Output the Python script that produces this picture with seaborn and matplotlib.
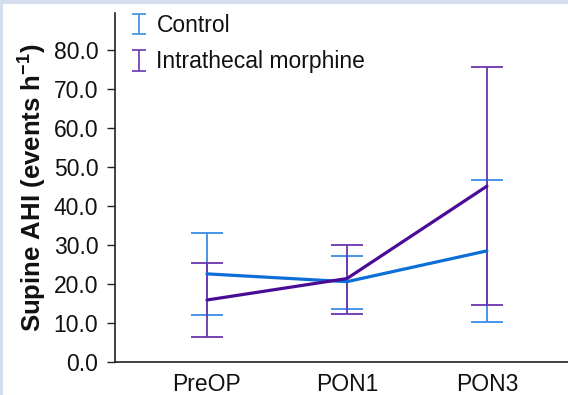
import numpy as np
import pandas as pd
import matplotlib
matplotlib.use("Agg")
import matplotlib.pyplot as plt
import seaborn as sns
from matplotlib.patches import Rectangle
from matplotlib.legend_handler import HandlerErrorbar

categories = ["PreOP", "PON1", "PON3"]
control_mean = [22.6, 20.6, 28.5]
control_upper = [33.1, 27.2, 46.8]
control_lower = [12.0, 13.7, 10.3]
morphine_mean = [15.9, 21.4, 45.1]
morphine_upper = [25.5, 29.9, 75.6]
morphine_lower = [6.3, 12.3, 14.6]
yticks = [0, 10, 20, 30, 40, 50, 60, 70, 80]

sns.set_theme(style="white")
plt.rcParams['font.family'] = ['Liberation Sans', 'DejaVu Sans']
plt.rcParams['mathtext.fontset'] = 'custom'
plt.rcParams['mathtext.rm'] = 'Liberation Sans'
plt.rcParams['mathtext.bf'] = 'Liberation Sans:bold'

FS = 16.5
TXT = "#111111"

fig = plt.figure(figsize=(5.68, 3.95), dpi=100)
fig.patch.set_facecolor("#d5deef")
fig.patches.append(Rectangle((3/568, 0), 1, 1 - 4/395, transform=fig.transFigure,
                             facecolor="white", edgecolor="none", zorder=-10))
ax = fig.add_axes([115/568, (395-362)/395, (568-115)/568, (362-13)/395])
ax.set_facecolor("none")

c_line, c_err = "#0b6fd6", "#3a8ce6"
m_line, m_err = "#4a0c96", "#6a36ae"

df = pd.DataFrame({
    "time": categories * 2,
    "AHI": control_mean + morphine_mean,
    "group": ["Control"] * 3 + ["Intrathecal morphine"] * 3,
})
x = np.arange(len(categories))
df["x"] = np.tile(x, 2)

sns.lineplot(data=df, x="x", y="AHI", hue="group", palette=[c_line, m_line],
             linewidth=2.3, ax=ax, legend=False, zorder=3)

cm = np.array(control_mean)
mm = np.array(morphine_mean)
ax.errorbar(x, cm, yerr=[cm - np.array(control_lower), np.array(control_upper) - cm],
            fmt="none", ecolor=c_err, elinewidth=1.3, capsize=11.5, capthick=1.3, zorder=2)
ax.errorbar(x, mm, yerr=[mm - np.array(morphine_lower), np.array(morphine_upper) - mm],
            fmt="none", ecolor=m_err, elinewidth=1.3, capsize=11.5, capthick=1.3, zorder=2)

# legend proxies (errorbar glyphs with small caps)
hc = ax.errorbar([np.nan], [np.nan], yerr=[[np.nan]], fmt="none", ecolor=c_err,
                 elinewidth=1.2, capsize=5, capthick=1.2)
hm = ax.errorbar([np.nan], [np.nan], yerr=[[np.nan]], fmt="none", ecolor=m_err,
                 elinewidth=1.2, capsize=5, capthick=1.2)

ax.set_xlim(-0.657, 2.579)
ax.set_ylim(0, 89.5)
ax.set_xticks(x)
ax.set_xticklabels(categories, fontsize=FS, color=TXT)
ax.set_yticks(yticks)
ax.set_yticklabels([f"{v:.1f}" for v in yticks], fontsize=FS, color=TXT)
ax.tick_params(axis="y", which="both", left=True, length=6, width=1, color="#222222", pad=6)
ax.tick_params(axis="x", bottom=False, pad=2)
for s in ["top", "right"]:
    ax.spines[s].set_visible(False)
for s in ["left", "bottom"]:
    ax.spines[s].set_color("#222222")
    ax.spines[s].set_linewidth(1.2)
ax.set_xlabel("")
ax.set_ylabel("Supine AHI (events h$^{\\mathbf{-1}}$)", fontsize=18.5, fontweight="bold",
              color=TXT, labelpad=4)

leg = ax.legend(handles=[hc, hm], labels=["Control", "Intrathecal morphine"],
                loc="upper left", bbox_to_anchor=(129/568, 1 - 14/395),
                bbox_transform=fig.transFigure, frameon=False, fontsize=FS,
                handlelength=0.85, handletextpad=0.35, labelspacing=0.58, borderaxespad=0,
                borderpad=0.0,
                handler_map={type(hc): HandlerErrorbar(xerr_size=0.45)})
for t in leg.get_texts():
    t.set_color(TXT)

fig.savefig("out.png", dpi=100, facecolor=fig.get_facecolor())
